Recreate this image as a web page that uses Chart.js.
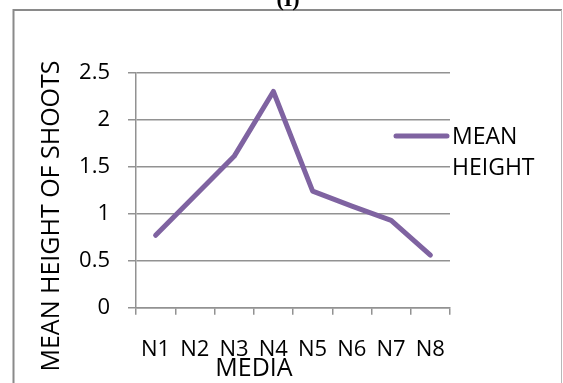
<!DOCTYPE html>
<html>
<head>
<meta charset="utf-8">
<script src="https://cdn.jsdelivr.net/npm/chart.js@4"></script>
<style>
  html, body { margin: 0; padding: 0; background: #fff; }
  #chart-media { display: block; }
</style>
</head>
<body>
<canvas id="chart-media" width="563" height="383"></canvas>
<script>
// ─── DATA ────────────────────────────────────────────────────────────────────
const categories = ['N1', 'N2', 'N3', 'N4', 'N5', 'N6', 'N7', 'N8'];
const meanHeight = [0.77, 1.19, 1.61, 2.30, 1.24, 1.08, 0.93, 0.56];
const yTickLabels = ['0', '0.5', '1', '1.5', '2', '2.5'];
const seriesLabel = ['MEAN', 'HEIGHT'];
const xTitle = 'MEDIA';
const yTitle = 'MEAN HEIGHT OF SHOOTS';
const chartTitle = '(I)';

const PURPLE = '#7f63a1';
const GRID = '#929292';
const FONT = '"Open Sans", "Noto Sans", sans-serif';

// ─── DECORATION (frame, titles, legend) ──────────────────────────────────────
const frame = {
  id: 'frame',
  beforeDraw(chart) {
    const ctx = chart.ctx;
    ctx.save();
    ctx.fillStyle = '#fff';
    ctx.fillRect(0, 0, chart.width, chart.height);
    // outer box
    ctx.strokeStyle = '#8a8a8a';
    ctx.lineWidth = 2;
    ctx.beginPath();
    ctx.moveTo(13.5, chart.height);
    ctx.lineTo(13.5, 10);
    ctx.lineTo(562, 10);
    ctx.stroke();
    ctx.strokeStyle = '#b8b8b8';
    ctx.lineWidth = 1;
    ctx.beginPath();
    ctx.moveTo(561.5, 10);
    ctx.lineTo(561.5, chart.height);
    ctx.stroke();
    // title, mostly cut off at the top
    ctx.fillStyle = '#000';
    ctx.font = 'bold 22px "Liberation Serif", serif';
    ctx.textAlign = 'center';
    ctx.textBaseline = 'alphabetic';
    ctx.fillText(chartTitle, 288, 6);
    ctx.restore();
  },
  afterDraw(chart) {
    const ctx = chart.ctx;
    ctx.save();
    ctx.fillStyle = '#000';
    // y title
    ctx.font = '25px ' + FONT;
    ctx.textAlign = 'center';
    ctx.textBaseline = 'middle';
    ctx.translate(52, 216);
    ctx.rotate(-Math.PI / 2);
    ctx.fillText(yTitle, 0, 0);
    ctx.restore();

    ctx.save();
    ctx.fillStyle = '#000';
    ctx.font = '25px ' + FONT;
    ctx.textAlign = 'center';
    ctx.textBaseline = 'middle';
    ctx.fillText(xTitle, 254, 369);

    // legend
    ctx.strokeStyle = PURPLE;
    ctx.lineWidth = 5;
    ctx.lineCap = 'round';
    ctx.beginPath();
    ctx.moveTo(396, 136);
    ctx.lineTo(447, 136);
    ctx.stroke();
    ctx.font = '23px ' + FONT;
    ctx.textAlign = 'left';
    ctx.fillText(seriesLabel[0], 452, 137);
    ctx.fillText(seriesLabel[1], 452, 168);
    ctx.restore();
  }
};

// ─── CHART ───────────────────────────────────────────────────────────────────
new Chart(document.getElementById('chart-media'), {
  type: 'line',
  data: {
    labels: categories,
    datasets: [{
      label: seriesLabel.join(' '),
      data: meanHeight,
      borderColor: PURPLE,
      backgroundColor: PURPLE,
      borderWidth: 5,
      borderCapStyle: 'round',
      borderJoinStyle: 'round',
      pointRadius: 0,
      tension: 0,
      fill: false
    }]
  },
  options: {
    responsive: false,
    animation: false,
    devicePixelRatio: 1,
    layout: { padding: { left: 0, top: 72.7, right: 113, bottom: 0 } },
    plugins: { legend: { display: false }, tooltip: { enabled: false } },
    scales: {
      x: {
        offset: true,
        grid: { display: true, offset: true, drawOnChartArea: false, drawTicks: true, tickLength: 7, color: GRID, lineWidth: 1.5 },
        border: { display: true, color: GRID, width: 1.5 },
        ticks: { color: '#000', font: { family: FONT, size: 22 }, padding: 22, maxRotation: 0, autoSkip: false },
        afterFit: s => { s.height = 383 - 307.7; }
      },
      y: {
        min: 0,
        max: 2.5,
        ticks: {
          stepSize: 0.5,
          color: '#000',
          font: { family: FONT, size: 22 },
          padding: 18,
          callback: (v, i) => yTickLabels[i]
        },
        grid: { color: GRID, lineWidth: 1.5, tickLength: 8, drawTicks: true },
        border: { display: true, color: GRID, width: 1.5 },
        afterFit: s => { s.width = 136; }
      }
    }
  },
  plugins: [frame]
});
</script>
</body>
</html>
